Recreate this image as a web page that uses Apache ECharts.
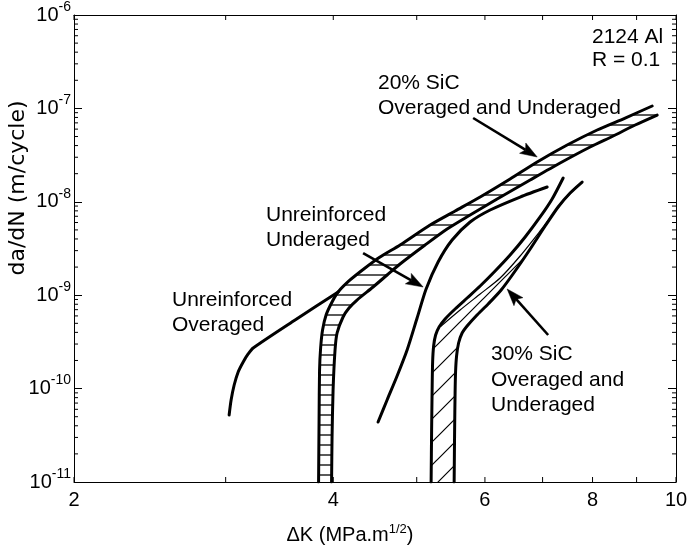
<!DOCTYPE html>
<html>
<head>
<meta charset="utf-8">
<script src="https://cdn.jsdelivr.net/npm/echarts@6/dist/echarts.min.js"></script>
<style>html,body{margin:0;padding:0;background:#fff}#c{width:688px;height:546px}</style>
</head>
<body>
<div id="c"></div>
<script>
// ---------------- data ----------------
const xTickValues = [2, 3, 4, 5, 6, 7, 8, 9, 10];
const xLabelValues = [2, 4, 6, 8, 10];
const yDecadeValues = [1e-11, 1e-10, 1e-9, 1e-8, 1e-7];
const yMinorMultipliers = [2, 3, 4, 5, 6, 7, 8, 9];

const unreinforcedOveraged = [
  [3.028, 5.22e-11], [3.044, 7.55e-11], [3.069, 1.093e-10], [3.102, 1.505e-10],
  [3.144, 1.926e-10], [3.186, 2.347e-10], [3.229, 2.721e-10], [3.612, 5.43e-10], [4.053, 1.082e-9]
];
const unreinforcedUnderaged = [
  [4.509, 4.389e-11], [4.619, 7.55e-11], [4.744, 1.364e-10], [4.873, 2.59e-10],
  [5.005, 5.70e-10], [5.127, 1.165e-9], [5.294, 2.267e-9], [5.496, 3.899e-9],
  [5.767, 6.076e-9], [6.084, 8.169e-9], [6.592, 1.125e-8], [7.086, 1.44e-8]
];
const sic20Upper = [
  [3.846, 1e-11], [3.851, 4.612e-11], [3.856, 1.581e-10], [3.867, 2.721e-10],
  [3.887, 4.24e-10], [3.924, 6.138e-10], [3.987, 8.457e-10], [4.052, 1.082e-9],
  [4.184, 1.455e-9], [4.355, 1.956e-9], [4.533, 2.564e-9], [4.782, 3.447e-9],
  [5.182, 5.643e-9], [5.540, 7.97e-9], [5.924, 1.126e-8], [6.418, 1.754e-8],
  [6.899, 2.668e-8], [7.475, 4.056e-8], [8.100, 5.871e-8], [8.729, 7.892e-8], [9.383, 1.061e-7]
];
const sic20Lower = [
  [3.982, 1e-11], [3.987, 3.032e-11], [3.998, 9.66e-11], [4.019, 2.59e-10],
  [4.041, 3.938e-10], [4.106, 5.843e-10], [4.172, 7.295e-10], [4.262, 8.882e-10],
  [4.449, 1.224e-9], [4.619, 1.645e-9], [4.782, 2.158e-9], [5.113, 3.447e-9],
  [5.423, 5.114e-9], [5.767, 7.222e-9], [6.199, 1.072e-8], [6.771, 1.711e-8],
  [7.336, 2.602e-8], [7.949, 3.861e-8], [8.454, 5.064e-8], [8.966, 6.642e-8], [9.509, 8.497e-8]
];
const sic30Upper = [
  [5.196, 1e-11], [5.203, 3.603e-11], [5.210, 9.66e-11], [5.217, 1.926e-10],
  [5.231, 2.858e-10], [5.259, 3.749e-10], [5.308, 4.565e-10], [5.394, 5.562e-10],
  [5.540, 7.114e-10], [5.721, 9.333e-10], [5.924, 1.254e-9], [6.166, 1.816e-9],
  [6.418, 2.694e-9], [6.681, 4.199e-9], [6.954, 6.876e-9], [7.181, 1.072e-8], [7.396, 1.798e-8]
];
const sic30Lower = [
  [5.526, 1e-11], [5.533, 3.603e-11], [5.540, 8.971e-11], [5.547, 1.505e-10],
  [5.562, 2.234e-10], [5.592, 3.078e-10], [5.645, 3.94e-10], [5.721, 4.679e-10],
  [5.860, 5.988e-10], [6.052, 8.049e-10], [6.266, 1.137e-9], [6.505, 1.816e-9],
  [6.772, 3.123e-9], [7.048, 5.506e-9], [7.297, 8.796e-9], [7.535, 1.242e-8], [7.781, 1.629e-8]
];
const sic30Thin = [
  [5.337, 4.679e-10], [5.615, 6.943e-10], [5.924, 1.03e-9], [6.249, 1.528e-9],
  [6.592, 2.628e-9], [6.954, 4.869e-9], [7.336, 9.24e-9], [7.657, 1.44e-8]
];
// arrows: [tailX, tailY, tipX, tipY]
const arrowData = [
  [5.814, 7.89e-8, 6.900, 3.018e-8],
  [4.332, 2.829e-9, 5.086, 1.224e-9],
  [7.105, 3.749e-10, 6.367, 1.165e-9]
];

// ---------------- chart ----------------
const X_MIN = 2, X_MAX = 10, Y_MIN = 1e-11, Y_MAX = 1e-6;
const FONT = '"Liberation Sans", Arial, sans-serif';

function hatchCanvas(kind) {
  const c = document.createElement('canvas');
  if (kind === 'h') {
    c.width = 10; c.height = 10;
    const ctx = c.getContext('2d');
    ctx.strokeStyle = '#000'; ctx.lineWidth = 1.3;
    ctx.beginPath(); ctx.moveTo(0, 5); ctx.lineTo(10, 5); ctx.stroke();
  } else {
    c.width = 23; c.height = 23;
    const ctx = c.getContext('2d');
    ctx.strokeStyle = '#000'; ctx.lineWidth = 1.2;
    ctx.beginPath();
    ctx.moveTo(0, 23); ctx.lineTo(23, 0);
    ctx.moveTo(-2, 2); ctx.lineTo(2, -2);
    ctx.moveTo(21, 25); ctx.lineTo(25, 21);
    ctx.stroke();
  }
  return c;
}
const hPattern = hatchCanvas('h');
const dPattern = hatchCanvas('d');

const band20Poly = sic20Upper.concat(sic20Lower.slice().reverse());
const band30Poly = sic30Upper.slice(0, 7)
  .concat(sic30Thin)
  .concat(sic30Lower.filter(p => p[0] < sic30Thin[sic30Thin.length - 1][0]).reverse());

function bandSeries(poly, pattern) {
  return {
    type: 'custom', coordinateSystem: 'cartesian2d', silent: true, z: 1,
    data: [[X_MIN, Y_MIN]],
    renderItem: function (params, api) {
      const pts = poly.map(p => api.coord(p));
      return { type: 'polygon', shape: { points: pts },
        style: { fill: { image: pattern, repeat: 'repeat' }, stroke: null } };
    }
  };
}
function curve(data, width) {
  return {
    type: 'line', data: data, showSymbol: false, symbol: 'none', smooth: 0.25,
    silent: true, z: 3, lineStyle: { color: '#000', width: width || 3, cap: 'round', join: 'round' }
  };
}

const yMinorValues = [];
yDecadeValues.forEach(d => yMinorMultipliers.forEach(m => yMinorValues.push([X_MIN, m * d])));

const ann = [
  ['2124 Al', 592, 37], ['R = 0.1', 592, 60],
  ['20% SiC', 378, 83], ['Overaged and Underaged', 378, 108],
  ['Unreinforced', 266, 215], ['Underaged', 266, 240],
  ['Unreinforced', 172, 300], ['Overaged', 172, 325],
  ['30% SiC', 491, 354], ['Overaged and', 491, 380], ['Underaged', 491, 405]
];

const option = {
  animation: false,
  backgroundColor: '#fff',
  grid: { left: 74, right: 12, top: 15, bottom: 64 },
  xAxis: [
    { type: 'log', logBase: 10, min: X_MIN, max: X_MAX, position: 'bottom',
      axisLine: { show: true, onZero: false, lineStyle: { color: '#000', width: 1 } },
      axisTick: { show: false }, axisLabel: { show: false }, splitLine: { show: false }, minorTick: { show: false } },
    { type: 'log', logBase: 10, min: X_MIN, max: X_MAX, position: 'top',
      axisLine: { show: true, onZero: false, lineStyle: { color: '#000', width: 1 } },
      axisTick: { show: false }, axisLabel: { show: false }, splitLine: { show: false } }
  ],
  yAxis: [
    { type: 'log', logBase: 10, min: Y_MIN, max: Y_MAX, position: 'left',
      axisLine: { show: true, onZero: false, lineStyle: { color: '#000', width: 1 } },
      axisTick: { show: true, inside: true, length: 8, lineStyle: { color: '#000', width: 1 } },
      splitLine: { show: false },
      axisLabel: {
        show: true, margin: 3, showMinLabel: true, showMaxLabel: true,
        formatter: v => '{b|10}{s|' + Math.round(Math.log10(v)) + '}',
        rich: {
          b: { fontSize: 20, fontFamily: FONT, color: '#000', lineHeight: 30 },
          s: { fontSize: 14, fontFamily: FONT, color: '#000', lineHeight: 14, verticalAlign: 'top' }
        }
      } },
    { type: 'log', logBase: 10, min: Y_MIN, max: Y_MAX, position: 'right',
      axisLine: { show: true, onZero: false, lineStyle: { color: '#000', width: 1 } },
      axisTick: { show: true, inside: true, length: 8, lineStyle: { color: '#000', width: 1 } },
      axisLabel: { show: false }, splitLine: { show: false } }
  ],
  series: [
    bandSeries(band20Poly, hPattern),
    bandSeries(band30Poly, dPattern),
    curve(unreinforcedOveraged),
    curve(unreinforcedUnderaged),
    curve(sic20Upper),
    curve(sic20Lower),
    curve(sic30Upper),
    curve(sic30Lower),
    curve(sic30Thin, 1.2),
    { // arrows
      type: 'custom', silent: true, z: 4, data: arrowData,
      encode: { x: [0, 2], y: [1, 3] },
      renderItem: function (params, api) {
        const a = api.coord([api.value(0), api.value(1)]);
        const b = api.coord([api.value(2), api.value(3)]);
        const dx = b[0] - a[0], dy = b[1] - a[1];
        const len = Math.sqrt(dx * dx + dy * dy);
        const ux = dx / len, uy = dy / len, nx = -uy, ny = ux;
        const L = 17, W = 6;
        const bx = b[0] - ux * L, by = b[1] - uy * L;
        const notchX = b[0] - ux * L * 0.8, notchY = b[1] - uy * L * 0.8;
        return { type: 'group', children: [
          { type: 'line', shape: { x1: a[0], y1: a[1], x2: notchX, y2: notchY },
            style: { stroke: '#000', lineWidth: 2.6 } },
          { type: 'polygon', shape: { points: [[b[0], b[1]], [bx + nx * W, by + ny * W], [notchX, notchY], [bx - nx * W, by - ny * W]] },
            style: { fill: '#000', stroke: '#000', lineWidth: 0.5 } }
        ] };
      }
    },
    { // x ticks bottom + top
      type: 'custom', silent: true, z: 5, data: xTickValues.map(v => [v, Y_MIN]),
      renderItem: function (params, api) {
        const x = api.value(0);
        const b = api.coord([x, Y_MIN]), t = api.coord([x, Y_MAX]);
        return { type: 'group', children: [
          { type: 'line', shape: { x1: b[0], y1: b[1], x2: b[0], y2: b[1] - 5 }, style: { stroke: '#000', lineWidth: 1 } },
          { type: 'line', shape: { x1: t[0], y1: t[1], x2: t[0], y2: t[1] + 5 }, style: { stroke: '#000', lineWidth: 1 } }
        ] };
      }
    },
    { // y minor ticks left + right
      type: 'custom', silent: true, z: 5, data: yMinorValues,
      renderItem: function (params, api) {
        const y = api.value(1);
        const l = api.coord([X_MIN, y]), r = api.coord([X_MAX, y]);
        return { type: 'group', children: [
          { type: 'line', shape: { x1: l[0], y1: l[1], x2: l[0] + 4, y2: l[1] }, style: { stroke: '#000', lineWidth: 1 } },
          { type: 'line', shape: { x1: r[0], y1: r[1], x2: r[0] - 4, y2: r[1] }, style: { stroke: '#000', lineWidth: 1 } }
        ] };
      }
    },
    { // x tick labels
      type: 'custom', silent: true, z: 5, data: xLabelValues.map(v => [v, Y_MIN]),
      renderItem: function (params, api) {
        const v = api.value(0);
        const p = api.coord([v, Y_MIN]);
        return { type: 'text', x: p[0], y: p[1] + 8,
          style: { text: String(v), fill: '#000', font: '20px ' + FONT, align: 'center', verticalAlign: 'top' } };
      }
    }
  ],
  graphic: ann.map(a => ({
    type: 'text', x: a[1], y: a[2], silent: true,
    style: { text: a[0], fill: '#000', font: '21px ' + FONT, align: 'left', verticalAlign: 'middle' }
  })).concat([
    { type: 'text', x: 18, y: 188, rotation: Math.PI / 2, silent: true,
      style: { text: 'da/dN (m/cycle)', fill: '#000', font: '22px "DejaVu Sans", sans-serif', align: 'center', verticalAlign: 'middle' } },
    { type: 'text', x: 350, y: 535, silent: true,
      style: { text: '{a|ΔK (MPa.m}{s|1/2}{a|)}', align: 'center', verticalAlign: 'middle',
        rich: {
          a: { fontSize: 20, fontFamily: FONT, fill: '#000', lineHeight: 24 },
          s: { fontSize: 13, fontFamily: FONT, fill: '#000', lineHeight: 13, verticalAlign: 'top' }
        } } }
  ])
};

const chart = echarts.init(document.getElementById('c'), null, { renderer: 'canvas', width: 688, height: 546 });
chart.setOption(option);
</script>
</body>
</html>
